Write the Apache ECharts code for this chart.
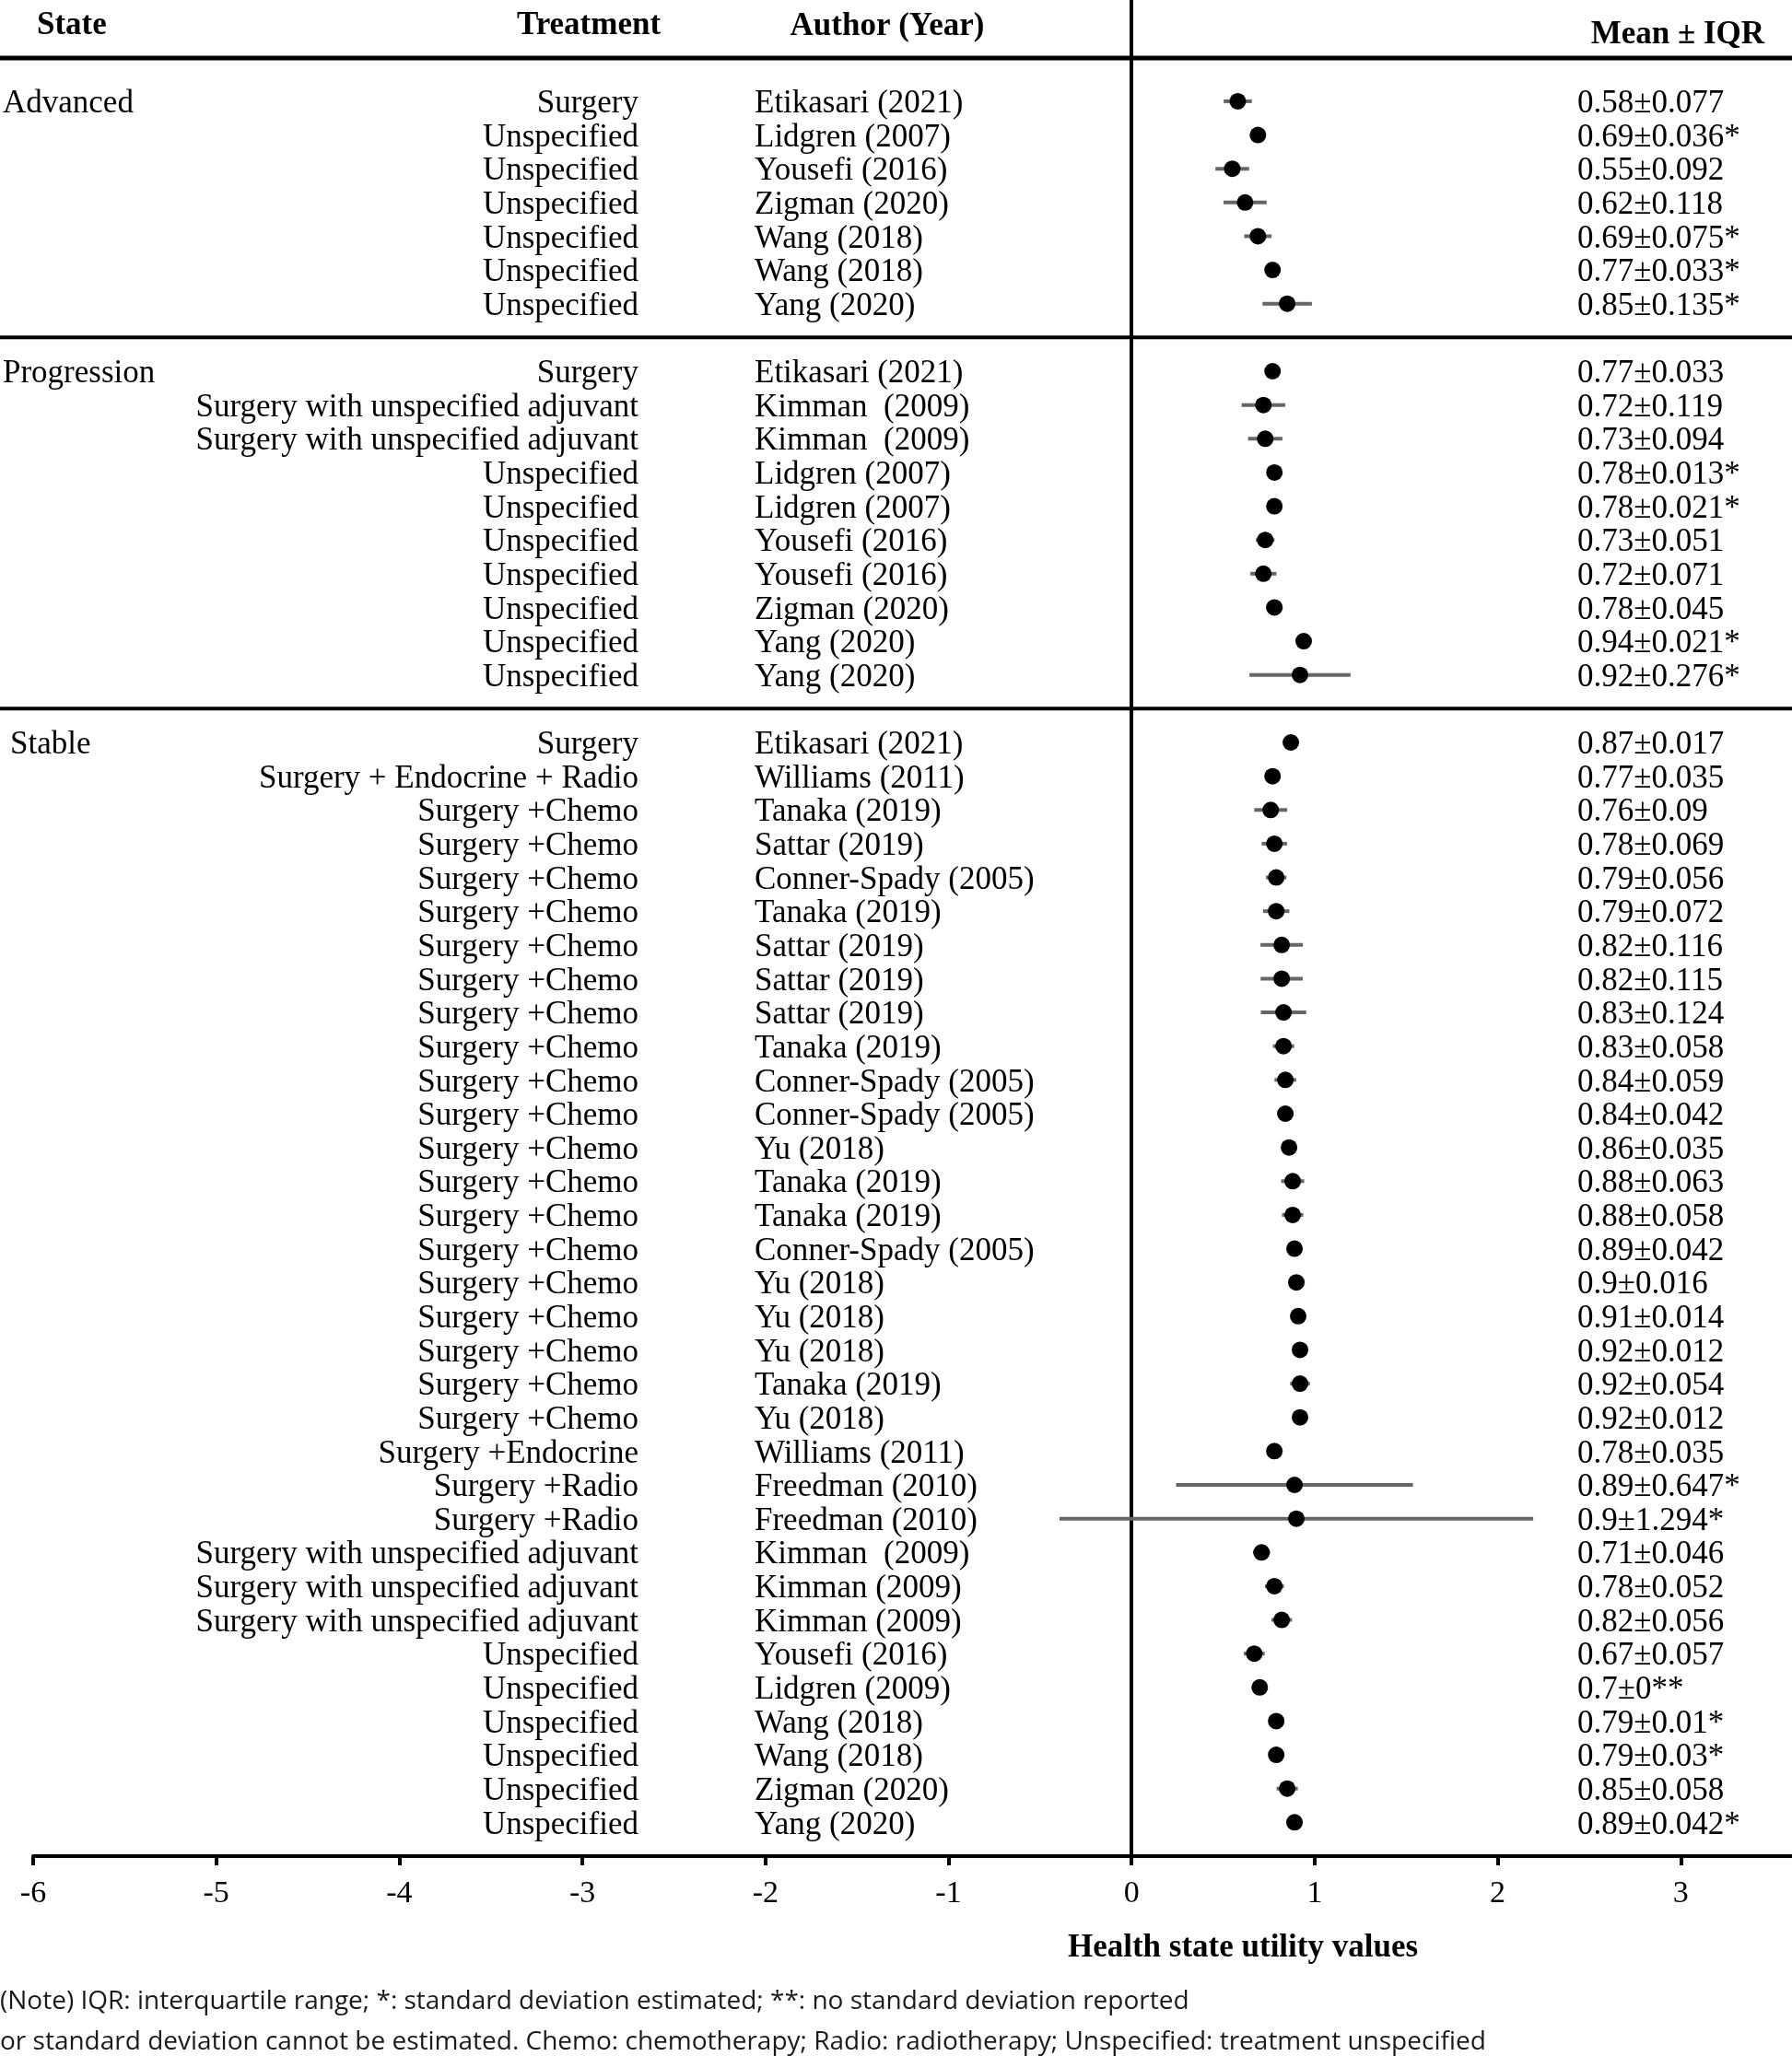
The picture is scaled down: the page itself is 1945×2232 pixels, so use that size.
<!DOCTYPE html>
<html>
<head>
<meta charset="utf-8">
<script src="https://cdn.jsdelivr.net/npm/echarts@6/dist/echarts.min.js"></script>
<style>
  html, body { margin: 0; padding: 0; background: #fff; }
  #chart { width: 1945px; height: 2232px; }
</style>
</head>
<body>
<div id="chart"></div>
<script>
// ---------------- DATA ----------------
const groupNames = ['Advanced', 'Progression', 'Stable'];

const advTreat  = ['Surgery','Unspecified','Unspecified','Unspecified','Unspecified','Unspecified','Unspecified'];
const advAuthor = ['Etikasari (2021)','Lidgren (2007)','Yousefi (2016)','Zigman (2020)','Wang (2018)','Wang (2018)','Yang (2020)'];
const advMean   = [0.58, 0.69, 0.55, 0.62, 0.69, 0.77, 0.85];
const advIqr    = [0.077, 0.036, 0.092, 0.118, 0.075, 0.033, 0.135];
const advNote   = ['', '*', '', '', '*', '*', '*'];

const progTreat  = ['Surgery','Surgery with unspecified adjuvant','Surgery with unspecified adjuvant','Unspecified','Unspecified','Unspecified','Unspecified','Unspecified','Unspecified','Unspecified'];
const progAuthor = ['Etikasari (2021)','Kimman  (2009)','Kimman  (2009)','Lidgren (2007)','Lidgren (2007)','Yousefi (2016)','Yousefi (2016)','Zigman (2020)','Yang (2020)','Yang (2020)'];
const progMean   = [0.77, 0.72, 0.73, 0.78, 0.78, 0.73, 0.72, 0.78, 0.94, 0.92];
const progIqr    = [0.033, 0.119, 0.094, 0.013, 0.021, 0.051, 0.071, 0.045, 0.021, 0.276];
const progNote   = ['', '', '', '*', '*', '', '', '', '*', '*'];

const stabTreat = [
  'Surgery','Surgery + Endocrine + Radio',
  'Surgery +Chemo','Surgery +Chemo','Surgery +Chemo','Surgery +Chemo','Surgery +Chemo',
  'Surgery +Chemo','Surgery +Chemo','Surgery +Chemo','Surgery +Chemo','Surgery +Chemo',
  'Surgery +Chemo','Surgery +Chemo','Surgery +Chemo','Surgery +Chemo','Surgery +Chemo',
  'Surgery +Chemo','Surgery +Chemo','Surgery +Chemo','Surgery +Chemo',
  'Surgery +Endocrine','Surgery +Radio','Surgery +Radio',
  'Surgery with unspecified adjuvant','Surgery with unspecified adjuvant','Surgery with unspecified adjuvant',
  'Unspecified','Unspecified','Unspecified','Unspecified','Unspecified','Unspecified'
];
const stabAuthor = [
  'Etikasari (2021)','Williams (2011)',
  'Tanaka (2019)','Sattar (2019)','Conner-Spady (2005)','Tanaka (2019)','Sattar (2019)',
  'Sattar (2019)','Sattar (2019)','Tanaka (2019)','Conner-Spady (2005)','Conner-Spady (2005)',
  'Yu (2018)','Tanaka (2019)','Tanaka (2019)','Conner-Spady (2005)','Yu (2018)',
  'Yu (2018)','Yu (2018)','Tanaka (2019)','Yu (2018)',
  'Williams (2011)','Freedman (2010)','Freedman (2010)',
  'Kimman  (2009)','Kimman (2009)','Kimman (2009)',
  'Yousefi (2016)','Lidgren (2009)','Wang (2018)','Wang (2018)','Zigman (2020)','Yang (2020)'
];
const stabMean = [0.87, 0.77, 0.76, 0.78, 0.79, 0.79, 0.82, 0.82, 0.83, 0.83, 0.84, 0.84, 0.86, 0.88, 0.88, 0.89, 0.9, 0.91, 0.92, 0.92, 0.92, 0.78, 0.89, 0.9, 0.71, 0.78, 0.82, 0.67, 0.7, 0.79, 0.79, 0.85, 0.89];
const stabIqr  = [0.017, 0.035, 0.09, 0.069, 0.056, 0.072, 0.116, 0.115, 0.124, 0.058, 0.059, 0.042, 0.035, 0.063, 0.058, 0.042, 0.016, 0.014, 0.012, 0.054, 0.012, 0.035, 0.647, 1.294, 0.046, 0.052, 0.056, 0.057, 0, 0.01, 0.03, 0.058, 0.042];
const stabNote = ['', '', '', '', '', '', '', '', '', '', '', '', '', '', '', '', '', '', '', '', '', '', '*', '*', '', '', '', '', '**', '*', '*', '', '*'];

const xTickValues = [-6, -5, -4, -3, -2, -1, 0, 1, 2, 3];
const headerTexts = ['State', 'Treatment', 'Author (Year)', 'Mean ± IQR'];
const axisTitle = 'Health state utility values';
const noteLines = [
  '(Note) IQR: interquartile range; *: standard deviation estimated; **: no standard deviation reported',
  'or standard deviation cannot be estimated. Chemo: chemotherapy; Radio: radiotherapy; Unspecified: treatment unspecified'
];

// ---------------- LAYOUT ----------------
const W = 1945, H = 2232;
const SERIF = '"Liberation Serif", "Times New Roman", serif';
const SANS = '"Open Sans", "Noto Sans", sans-serif';
const ROW_MIN = -3, ROW_MAX = 52;
const HEADER_SEP_ROW = -1.28;
const stateX = [3, 3, 11];
const treatRightX = 693, authorX = 819, meanX = 1712;
const ROW_FONT = 35;
const TEXT_DY = 3;

// build rows (blank row between groups)
const groups = [
  { treat: advTreat, author: advAuthor, mean: advMean, iqr: advIqr, note: advNote },
  { treat: progTreat, author: progAuthor, mean: progMean, iqr: progIqr, note: progNote },
  { treat: stabTreat, author: stabAuthor, mean: stabMean, iqr: stabIqr, note: stabNote }
];
const rows = [];
const sepRows = [HEADER_SEP_ROW];
let r = 0;
groups.forEach((g, gi) => {
  if (gi > 0) { sepRows.push(r); r++; }
  g.treat.forEach((t, i) => {
    rows.push({
      row: r, gi: gi, first: i === 0,
      treat: t, author: g.author[i], mean: g.mean[i], iqr: g.iqr[i],
      label: String(g.mean[i]) + '±' + String(g.iqr[i]) + g.note[i]
    });
    r++;
  });
});

const chart = echarts.init(document.getElementById('chart'), null, { renderer: 'canvas' });

function txt(x, y, text, opts) {
  return {
    type: 'text', x: x, y: y, silent: true,
    style: Object.assign({
      text: text, fill: '#000', fontFamily: SERIF, fontSize: ROW_FONT,
      align: 'left', verticalAlign: 'middle', textAlign: 'left', textVerticalAlign: 'middle'
    }, opts || {})
  };
}

const option = {
  backgroundColor: '#fff',
  animation: false,
  grid: { left: 36, right: 0, top: 0, bottom: 217, containLabel: false, outerBoundsMode: 'none' },
  xAxis: {
    type: 'value', min: -6, max: (W - 36) / 198.7 - 6,
    axisLine: { show: true, onZero: false, lineStyle: { color: '#000', width: 4 } },
    axisTick: { show: true, length: 10, customValues: xTickValues, lineStyle: { color: '#000', width: 4 } },
    axisLabel: { show: true, customValues: xTickValues, margin: 24, color: '#000', fontSize: 34, fontFamily: SERIF },
    splitLine: { show: false }
  },
  yAxis: {
    type: 'value', inverse: true, min: ROW_MIN, max: ROW_MAX,
    axisLine: { show: true, onZero: true, lineStyle: { color: '#000', width: 4 } },
    axisTick: { show: false }, axisLabel: { show: false }, splitLine: { show: false }
  },
  graphic: [
    txt(40, 28, headerTexts[0], { fontWeight: 'bold' }),
    txt(639, 28, headerTexts[1], { fontWeight: 'bold', align: 'center', textAlign: 'center' }),
    txt(963, 29, headerTexts[2], { fontWeight: 'bold', align: 'center', textAlign: 'center' }),
    txt(1915, 38, headerTexts[3], { fontWeight: 'bold', align: 'right', textAlign: 'right' }),
    txt(1349, 2115, axisTitle, { fontWeight: 'bold', align: 'center', textAlign: 'center' }),
    txt(0, 2173, noteLines[0], { fontFamily: SANS, fontSize: 28, fill: '#1a1a1a' }),
    txt(0, 2217, noteLines[1], { fontFamily: SANS, fontSize: 28, fill: '#1a1a1a' })
  ],
  series: [
    {
      // separator lines across full width
      type: 'custom', clip: false, silent: true, z: 1,
      data: sepRows.map((v, i) => [0, v, i]),
      renderItem: function (params, api) {
        const p = api.coord([0, api.value(1)]);
        const idx = api.value(2);
        return {
          type: 'line',
          shape: { x1: 0, y1: p[1], x2: api.getWidth(), y2: p[1] },
          style: { stroke: '#000', lineWidth: idx === 0 ? 5 : 4 }
        };
      }
    },
    {
      // text columns
      type: 'custom', clip: false, silent: true, z: 2,
      data: rows.map((d, i) => [0, d.row, i]),
      renderItem: function (params, api) {
        const d = rows[api.value(2)];
        const y = api.coord([0, d.row])[1] + TEXT_DY;
        const children = [];
        const base = { fill: '#000', fontFamily: SERIF, fontSize: ROW_FONT, verticalAlign: 'middle', textVerticalAlign: 'middle' };
        if (d.first) {
          children.push({ type: 'text', style: Object.assign({}, base, { text: groupNames[d.gi], x: stateX[d.gi], y: y, align: 'left', textAlign: 'left' }) });
        }
        children.push({ type: 'text', style: Object.assign({}, base, { text: d.treat, x: treatRightX, y: y, align: 'right', textAlign: 'right' }) });
        children.push({ type: 'text', style: Object.assign({}, base, { text: d.author, x: authorX, y: y, align: 'left', textAlign: 'left' }) });
        children.push({ type: 'text', style: Object.assign({}, base, { text: d.label, x: meanX, y: y, align: 'left', textAlign: 'left' }) });
        return { type: 'group', children: children };
      }
    },
    {
      // IQR bars
      type: 'custom', clip: false, silent: true, z: 3,
      data: rows.map(d => [d.mean - d.iqr, d.mean + d.iqr, d.row]),
      renderItem: function (params, api) {
        const a = api.coord([api.value(0), api.value(2)]);
        const b = api.coord([api.value(1), api.value(2)]);
        return {
          type: 'line',
          shape: { x1: a[0], y1: a[1], x2: b[0], y2: b[1] },
          style: { stroke: '#666666', lineWidth: 4 }
        };
      }
    },
    {
      type: 'scatter', z: 4, silent: true,
      symbol: 'circle', symbolSize: 18,
      itemStyle: { color: '#000', opacity: 1 },
      data: rows.map(d => [d.mean, d.row])
    }
  ]
};
chart.setOption(option);
</script>
</body>
</html>
